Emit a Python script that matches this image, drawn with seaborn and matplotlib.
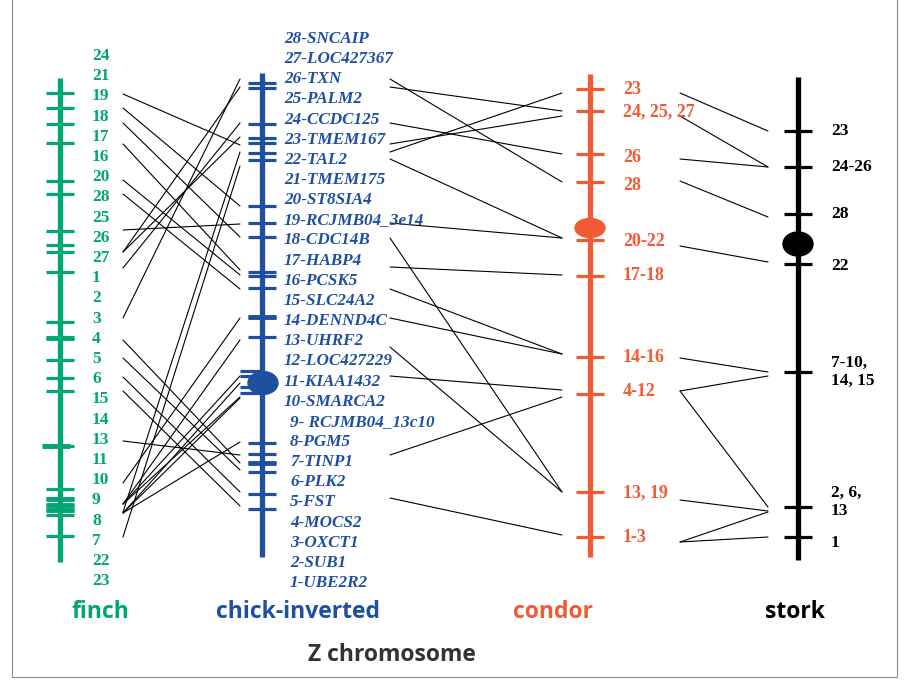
import numpy as np
import pandas as pd
import matplotlib
matplotlib.use("Agg")
import matplotlib.pyplot as plt
from matplotlib.patches import Ellipse, Rectangle
import seaborn as sns

sns.set_theme(style="white")

# --- map data (positions measured down the page) ---
finch_labels = ["24", "21", "19", "18", "17", "16", "20", "28", "25", "26", "27", "1", "2", "3",
                "4", "5", "6", "15", "14", "13", "11", "10", "9", "8", "7", "22", "23"]
finch_bands = [93, 108, 124, 143, 181, 194, 231, 245, 252, 272, 322, 338, 360, 378, 391,
               446, 489, 499, 505, 510, 515, 536]

chick_labels = ["28-SNCAIP", "27-LOC427367", "26-TXN", "25-PALM2", "24-CCDC125", "23-TMEM167",
                "22-TAL2", "21-TMEM175", "20-ST8SIA4", "19-RCJMB04_3e14", "18-CDC14B", "17-HABP4",
                "16-PCSK5", "15-SLC24A2", "14-DENND4C", "13-UHRF2", "12-LOC427229", "11-KIAA1432",
                "10-SMARCA2", "9- RCJMB04_13c10", "8-PGM5", "7-TINP1", "6-PLK2", "5-FST",
                "4-MOCS2", "3-OXCT1", "2-SUB1", "1-UBE2R2"]
chick_bands = [83, 88, 124, 138, 143, 153, 160, 206, 223, 237, 272, 276, 288, 317, 337,
               443, 454, 463, 472, 494, 509]
chick_cen_bands = [371, 376, 387, 393]

condor_labels = ["23", "24, 25, 27", "26", "28", "20-22", "17-18", "14-16", "4-12", "13, 19", "1-3"]
condor_label_pos = [90, 112, 157, 186, 242, 276, 358, 392, 493, 538]
condor_bands = [89, 111, 154, 182, 240, 276, 357, 394, 492, 537]

stork_labels = ["23", "24-26", "28", "22", "7-10,\n14, 15", "2, 6,\n13", "1"]
stork_label_pos = [131, 167, 214, 266, 372, 502, 543]
stork_bands = [131, 167, 214, 264, 372, 507, 537]

# homologous links (left map position -> right map position)
finch_chick = [(94, 145), (108, 206), (123, 237), (144, 270), (180, 275), (194, 289),
               (230, 224), (252, 137), (252, 87), (268, 123), (318, 79),
               (340, 463), (358, 470), (377, 492), (391, 506), (441, 455),
               (483, 318), (504, 340), (504, 376), (504, 397), (513, 383), (513, 398),
               (513, 442), (512, 152), (537, 166)]
chick_condor = [(79, 182), (87, 111), (123, 154), (144, 116), (152, 93), (159, 238),
                (223, 238), (238, 492), (267, 275), (289, 354), (318, 354), (347, 492),
                (376, 390), (455, 397), (498, 535)]
condor_stork = [(93, 131), (116, 167), (159, 167), (181, 217), (246, 262), (358, 372),
                (391, 376), (391, 507), (500, 511), (542, 512), (542, 537)]

# --- layout / style ---
GREEN, BLUE, RED, BLACK = "#00a673", "#1f4fa0", "#f05a35", "#000000"
serif = "Liberation Serif"
X_FINCH, X_CHICK, X_CONDOR, X_STORK = 60, 262, 590, 798
TICK = 14

fig = plt.figure(figsize=(9.06, 6.89), dpi=100)
ax = fig.add_axes([0, 0, 1, 1])

# connecting lines via seaborn
rows = []
k = 0
for links, x0, x1 in [(finch_chick, 123, 240), (chick_condor, 390, 562), (condor_stork, 680, 768)]:
    for a, b in links:
        rows.append((k, x0, a))
        rows.append((k, x1, b))
        k += 1
seg = pd.DataFrame(rows, columns=["link", "x", "y"])
sns.lineplot(data=seg, x="x", y="y", units="link", estimator=None, sort=False,
             color="black", lw=0.8, legend=False, ax=ax)


def chromosome(x, top, bottom, bands, color, lw_band=2.3):
    ax.plot([x, x], [top, bottom], color=color, lw=3.8, solid_capstyle="butt", zorder=3)
    ax.hlines(bands, x - TICK, x + TICK, color=color, lw=lw_band, zorder=3)


chromosome(X_FINCH, 78, 562, finch_bands, GREEN)
ax.hlines([338, 446, 499, 505, 510], [X_FINCH - TICK, X_FINCH - 18, X_FINCH - TICK, X_FINCH - TICK, X_FINCH - TICK],
          [X_FINCH + TICK, X_FINCH + 10, X_FINCH + TICK, X_FINCH + TICK, X_FINCH + TICK],
          color=GREEN, lw=3.5, zorder=3)
chromosome(X_CHICK, 73, 557, chick_bands, BLUE)
ax.hlines([317, 463], X_CHICK - TICK, X_CHICK + TICK, color=BLUE, lw=3.5, zorder=3)
ax.hlines(chick_cen_bands, X_CHICK - 22, X_CHICK, color=BLUE, lw=2.3, zorder=3)
ax.add_patch(Ellipse((X_CHICK + 1, 383), 30, 23, color=BLUE, zorder=4))
chromosome(X_CONDOR, 74, 557, condor_bands, RED)
ax.add_patch(Ellipse((X_CONDOR, 228), 30, 19, color=RED, zorder=4))
chromosome(X_STORK, 77, 560, stork_bands, BLACK)
ax.add_patch(Ellipse((X_STORK, 244), 30, 24, color=BLACK, zorder=4))

# labels
for i, lab in enumerate(finch_labels):
    ax.text(92, 56 + 20.2 * i, lab, color=GREEN, family=serif, weight="bold",
            fontsize=12.5, va="center", ha="left")
for i, lab in enumerate(chick_labels):
    xx = 284 if len(lab.split("-")[0]) > 1 else 290
    ax.text(xx, 39 + 20.15 * i, lab, color=BLUE, family=serif, weight="bold",
            style="italic", fontsize=12.3, va="center", ha="left")
for lab, y in zip(condor_labels, condor_label_pos):
    ax.text(623, y, lab, color=RED, family=serif, weight="bold", fontsize=13,
            va="center", ha="left")
for lab, y in zip(stork_labels, stork_label_pos):
    ax.text(831, y, lab, color=BLACK, family=serif, weight="bold", fontsize=12.5,
            va="center", ha="left", linespacing=1.2)

# species titles
for name, x, c in [("finch", 100, GREEN), ("chick-inverted", 298, BLUE),
                   ("condor", 553, RED), ("stork", 795, BLACK)]:
    ax.text(x, 612, name, color=c, family="Open Sans", weight="bold", fontsize=16.5,
            ha="center", va="center")
ax.text(392, 655, "Z chromosome", color="#333333", family="Open Sans", weight="bold",
        fontsize=16.5, ha="center", va="center")

ax.add_patch(Rectangle((12, -10), 885, 687, fill=False, ec="#8c8c8c", lw=0.8))

ax.set_xlim(0, 906)
ax.set_ylim(689, 0)
ax.axis("off")
fig.savefig("out.png", dpi=100, facecolor="white")
